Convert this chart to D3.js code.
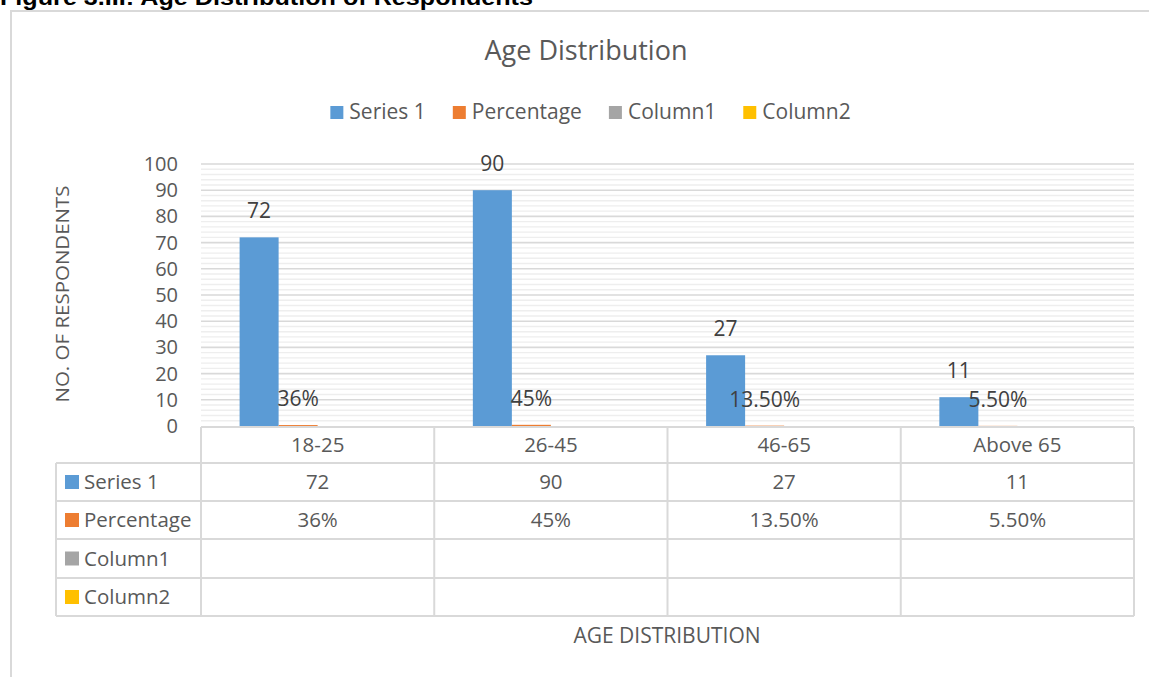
<!DOCTYPE html>
<html>
<head>
<meta charset="utf-8">
<script src="https://cdn.jsdelivr.net/npm/d3@7/dist/d3.min.js"></script>
<style>
  html, body { margin: 0; padding: 0; background: #fff; }
  svg { display: block; }
  text { font-family: "Open Sans", "Noto Sans", sans-serif; }
</style>
</head>
<body>
<svg id="chart" width="1149" height="677"></svg>
<script>
// Age groups and the series shown in the chart / data table
const categories = ["18-25", "26-45", "46-65", "Above 65"];
const seriesNames = ["Series 1", "Percentage", "Column1", "Column2"];
const seriesColors = ["#5b9bd5", "#ed7d31", "#a5a5a5", "#ffc000"];
const respondents = [72, 90, 27, 11];
const percentage = [0.36, 0.45, 0.135, 0.055];
const percentLabels = ["36%", "45%", "13.50%", "5.50%"];
const column1 = [null, null, null, null];
const column2 = [null, null, null, null];
const yTicks = [0, 10, 20, 30, 40, 50, 60, 70, 80, 90, 100];

const seriesValues = [respondents, percentage, column1, column2];
const seriesLabels = [respondents.map(String), percentLabels, column1.map(() => ""), column2.map(() => "")];

const svg = d3.select("#chart");
const textColor = "#595959";
const gridMajor = "#d9d9d9";
const gridMinor = "#eeeeee";

// Caption above the chart frame
svg.append("text")
  .attr("x", 0).attr("y", 5)
  .attr("font-weight", "bold")
  .attr("font-size", 22)
  .attr("textLength", 533)
  .attr("lengthAdjust", "spacingAndGlyphs")
  .attr("fill", "#000")
  .style("font-family", "'Liberation Sans', Arial, sans-serif")
  .text("Figure 3.III: Age Distribution of Respondents");

// Chart frame
svg.append("rect")
  .attr("x", 11).attr("y", 11)
  .attr("width", 1170).attr("height", 700)
  .attr("fill", "none")
  .attr("stroke", gridMajor).attr("stroke-width", 2);

// Title
svg.append("text")
  .attr("x", 586).attr("y", 60)
  .attr("text-anchor", "middle")
  .attr("font-size", 27)
  .attr("fill", textColor)
  .text("Age Distribution");

// Scales
const plotLeft = 201, plotRight = 1134;
const x = d3.scaleBand().domain(categories).range([plotLeft, plotRight]).padding(0);
const xs = d3.scaleBand().domain(seriesNames)
  .range([38.6, x.bandwidth() - 38.6]).padding(0);
const y = d3.scaleLinear().domain([0, 100]).range([426, 164]);

// Gridlines: minor every 2, major every 10
const g = svg.append("g");
g.selectAll("line.minor")
  .data(d3.range(0, 101, 2).filter(v => v % 10 !== 0))
  .join("line")
  .attr("x1", plotLeft).attr("x2", plotRight)
  .attr("y1", d => y(d)).attr("y2", d => y(d))
  .attr("stroke", gridMinor).attr("stroke-width", 1.4);
g.selectAll("line.major")
  .data(yTicks.filter(v => v > 0))
  .join("line")
  .attr("x1", plotLeft).attr("x2", plotRight)
  .attr("y1", d => y(d)).attr("y2", d => y(d))
  .attr("stroke", gridMajor).attr("stroke-width", 1.6);

// Y axis tick labels
const yAxis = d3.axisLeft(y).tickValues(yTicks).tickSize(0).tickPadding(0);
const yg = svg.append("g").attr("transform", "translate(178,0)").call(yAxis);
yg.select(".domain").remove();
yg.selectAll("text")
  .attr("font-size", 20)
  .attr("fill", textColor)
  .style("font-family", "'Open Sans', sans-serif");

// Bars
const barLayer = svg.append("g");
const labelLayer = svg.append("g");
seriesNames.forEach((name, si) => {
  const rows = categories.map((c, i) => ({ c, v: seriesValues[si][i], label: seriesLabels[si][i] }))
    .filter(d => d.v !== null);
  barLayer.append("g").selectAll("rect")
    .data(rows)
    .join("rect")
    .attr("x", d => x(d.c) + xs(name))
    .attr("width", xs.bandwidth())
    .attr("y", d => y(d.v))
    .attr("height", d => y(0) - y(d.v))
    .attr("fill", seriesColors[si]);
  labelLayer.append("g").selectAll("text")
    .data(rows)
    .join("text")
    .attr("x", d => x(d.c) + xs(name) + xs.bandwidth() / 2)
    .attr("y", d => y(d.v) - 19)
    .attr("text-anchor", "middle")
    .attr("font-size", 21)
    .attr("fill", "#404040")
    .text(d => d.label);
});

// Data table under the plot
const rowEdges = [427, 463, 501, 539, 578, 616];
const tableLeft = 56;
const colEdges = [plotLeft].concat(categories.map(c => x(c) + x.bandwidth()));
const tg = svg.append("g").attr("stroke", gridMajor).attr("stroke-width", 2);
tg.append("line").attr("x1", plotLeft).attr("x2", plotRight).attr("y1", rowEdges[0]).attr("y2", rowEdges[0]);
rowEdges.slice(1).forEach(yy => {
  tg.append("line").attr("x1", tableLeft).attr("x2", plotRight).attr("y1", yy).attr("y2", yy);
});
tg.append("line").attr("x1", tableLeft).attr("x2", tableLeft).attr("y1", rowEdges[1]).attr("y2", rowEdges[5]);
colEdges.forEach(xx => {
  tg.append("line").attr("x1", xx).attr("x2", xx).attr("y1", rowEdges[0]).attr("y2", rowEdges[5]);
});

// header labels
svg.append("g").selectAll("text")
  .data(categories)
  .join("text")
  .attr("x", d => x(d) + x.bandwidth() / 2)
  .attr("y", (rowEdges[0] + rowEdges[1]) / 2 + 7)
  .attr("text-anchor", "middle")
  .attr("font-size", 20.5)
  .attr("fill", textColor)
  .text(d => d);

// series rows
seriesNames.forEach((name, si) => {
  const cy = (rowEdges[si + 1] + rowEdges[si + 2]) / 2;
  svg.append("rect")
    .attr("x", 65).attr("y", cy - 7)
    .attr("width", 14).attr("height", 14)
    .attr("fill", seriesColors[si]);
  svg.append("text")
    .attr("x", 84).attr("y", cy + 7)
    .attr("font-size", 20.5)
    .attr("fill", textColor)
    .text(name);
  svg.append("g").selectAll("text")
    .data(categories.map((c, i) => ({ c, t: seriesLabels[si][i] })))
    .join("text")
    .attr("x", d => x(d.c) + x.bandwidth() / 2)
    .attr("y", cy + 7)
    .attr("text-anchor", "middle")
    .attr("font-size", 20.5)
    .attr("fill", textColor)
    .text(d => d.t);
});

// Legend
const legend = svg.append("g");
let lx = 0;
seriesNames.forEach((name, si) => {
  const item = legend.append("g").attr("transform", `translate(${lx},0)`);
  item.append("rect").attr("x", 0).attr("y", 106).attr("width", 13).attr("height", 13)
    .attr("fill", seriesColors[si]);
  const t = item.append("text").attr("x", 19).attr("y", 119)
    .attr("font-size", 21).attr("fill", textColor).text(name);
  lx += 19 + t.node().getComputedTextLength() + 27;
});
const legendWidth = lx - 27;
legend.attr("transform", `translate(${590.5 - legendWidth / 2},0)`);

// Axis titles
svg.append("text")
  .attr("transform", "translate(69,294) rotate(-90)")
  .attr("text-anchor", "middle")
  .attr("font-size", 18)
  .attr("textLength", 217)
  .attr("lengthAdjust", "spacingAndGlyphs")
  .attr("fill", textColor)
  .text("NO. OF RESPONDENTS");

svg.append("text")
  .attr("x", 667).attr("y", 643)
  .attr("text-anchor", "middle")
  .attr("font-size", 21)
  .attr("fill", textColor)
  .text("AGE DISTRIBUTION");
</script>
</body>
</html>
